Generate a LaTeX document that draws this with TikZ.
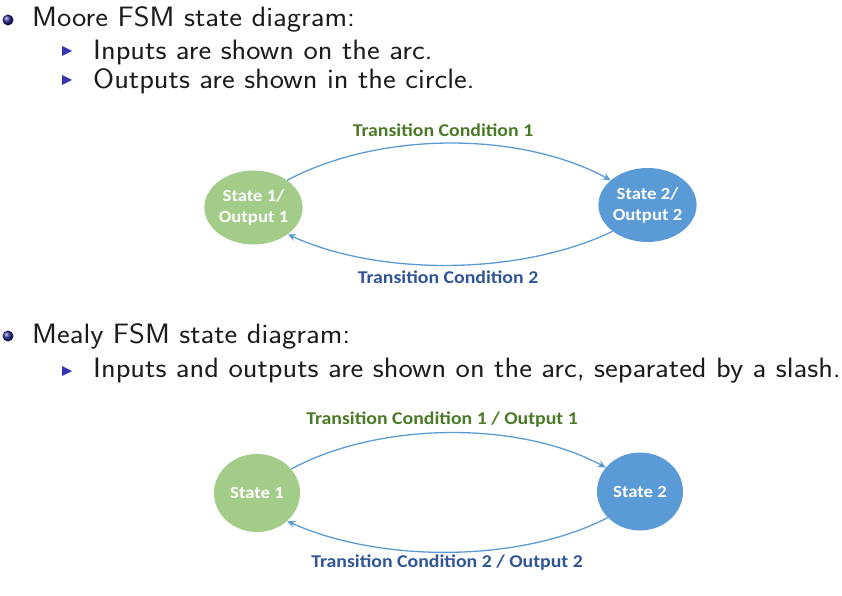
\documentclass[tikz,border=0pt]{standalone}
\usepackage{fontspec}
\newfontfamily\calfont[FakeStretch=1.1]{Carlito}
\usetikzlibrary{shapes.geometric,arrows.meta}
\definecolor{stgreen}{HTML}{A2CC87}
\definecolor{stblue}{HTML}{5A9AD6}
\definecolor{arcblue}{HTML}{5B9BD5}
\definecolor{lblgreen}{HTML}{4A7A26}
\definecolor{lblblue}{HTML}{2F5597}
\definecolor{struct}{HTML}{3333B3}
\definecolor{bodytxt}{HTML}{1C1C1C}
\newcommand{\hstretch}[1]{\scalebox{1.085}[1]{#1}}
\tikzset{
  body/.style={anchor=base west, inner sep=0pt, text=bodytxt, font=\sffamily\fontsize{28}{32}\selectfont},
  stategreen/.style={ellipse, fill=stgreen, draw=none, inner sep=0pt, text=white, align=center,
    font=\calfont\bfseries\fontsize{17}{21}\selectfont},
  stateblue/.style={stategreen, fill=stblue},
  arc/.style={draw=arcblue, line width=1.3pt, -{Stealth[length=8pt,width=7pt]}},
  lblg/.style={inner sep=0pt, text=lblgreen, font=\calfont\bfseries\fontsize{18}{21}\selectfont},
  lblb/.style={lblg, text=lblblue},
  tri/.style={fill=struct, draw=none}
}
\begin{document}
\begin{tikzpicture}[x=1pt, y=-1pt]
\useasboundingbox (0,0) rectangle (842,596);
% Moore
\shade[ball color=struct!80!black] (8,20) circle (5.5);
\node[body] (t1) at (32,27) {\hstretch{Moore FSM state diagram:}};
\fill[tri] (62,46) -- (72,51) -- (62,56) -- cycle;
\node[body] (t2) at (93,60) {\hstretch{Inputs are shown on the arc.}};
\fill[tri] (62,75) -- (72,80) -- (62,85) -- cycle;
\node[body] (t3) at (93,89) {\hstretch{Outputs are shown in the circle.}};

\node[stategreen, minimum width=89pt, minimum height=74pt] (g1) at (253.5,207.5) {State 1/\\Output 1};
\node[stateblue, minimum width=89pt, minimum height=74pt] (b1) at (647.5,205) {State 2/\\Output 2};
\draw[arc] (g1.39) .. controls (380,131) and (520,131) .. (b1.146);
\draw[arc] (b1.217) .. controls (520,276) and (378,276) .. (g1.322);
\node[lblg] (c1) at (443,130) {Transition Condition 1};
\node[lblb] (c2) at (448,277) {Transition Condition 2};

% Mealy
\shade[ball color=struct!80!black] (8,336) circle (5.5);
\node[body] (t4) at (32,343) {\hstretch{Mealy FSM state diagram:}};
\fill[tri] (62,366) -- (72,371) -- (62,376) -- cycle;
\node[body] (t5) at (93,377) {\hstretch{Inputs and outputs are shown on the arc, separated by a slash.}};

\node[stategreen, minimum width=86pt, minimum height=78pt] (g2) at (257,493) {State 1};
\node[stateblue, minimum width=86pt, minimum height=78pt] (b2) at (640,491.5) {State 2};
\draw[arc] (g2.35) .. controls (380,421) and (520,421) .. (b2.145);
\draw[arc] (b2.219) .. controls (520,563) and (380,563) .. (g2.317);
\node[lblg] (c3) at (442,420) {Transition Condition 1 / Output 1};
\node[lblb] (c4) at (447,563) {Transition Condition 2 / Output 2};
\end{tikzpicture}
\end{document}
